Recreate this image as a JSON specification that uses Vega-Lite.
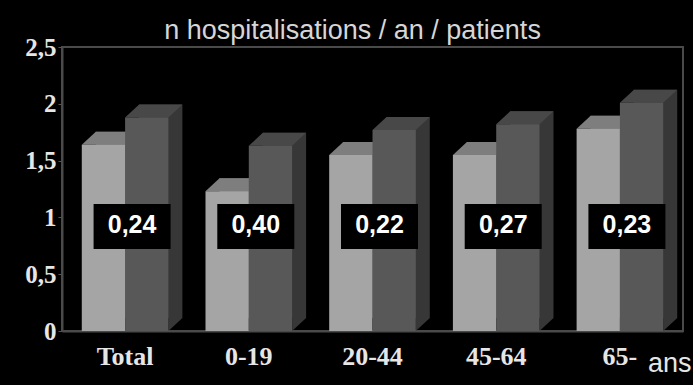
{
  "$schema": "https://vega.github.io/schema/vega-lite/v6.json",
  "width": 621,
  "height": 284,
  "autosize": {"type": "none"},
  "padding": {"left": 62, "top": 47, "right": 10, "bottom": 54},
  "background": "#000000",
  "title": {
    "text": "n hospitalisations / an / patients",
    "font": "Liberation Sans",
    "fontSize": 27,
    "fontWeight": "normal",
    "color": "#d6d6d6",
    "anchor": "middle",
    "baseline": "alphabetic",
    "offset": 6,
    "dx": -20,
    "dy": 37
  },
  "config": {
    "view": {"stroke": "#4a4a4a", "strokeWidth": 2},
    "point": {"filled": true, "opacity": 1, "strokeWidth": 0}
  },
  "data": {
    "values": [
      {"group": "Total", "serie": "A", "value": 1.64},
      {"group": "Total", "serie": "B", "value": 1.88, "ecart": "0,24"},
      {"group": "0-19", "serie": "A", "value": 1.23},
      {"group": "0-19", "serie": "B", "value": 1.63, "ecart": "0,40"},
      {"group": "20-44", "serie": "A", "value": 1.55},
      {"group": "20-44", "serie": "B", "value": 1.77, "ecart": "0,22"},
      {"group": "45-64", "serie": "A", "value": 1.55},
      {"group": "45-64", "serie": "B", "value": 1.82, "ecart": "0,27"},
      {"group": "65-", "serie": "A", "value": 1.78},
      {"group": "65-", "serie": "B", "value": 2.01, "ecart": "0,23"}
    ]
  },
  "encoding": {
    "x": {
      "field": "group",
      "type": "nominal",
      "sort": null,
      "scale": {
        "domain": ["Total", "0-19", "20-44", "45-64", "65-"],
        "paddingInner": 0.3,
        "paddingOuter": 0.16
      },
      "axis": {
        "title": "ans",
        "titleFont": "Liberation Sans",
        "titleFontSize": 27,
        "titleFontWeight": "normal",
        "titleColor": "#e6e6e6",
        "titleAlign": "right",
        "titleBaseline": "alphabetic",
        "titleX": 629,
        "titleY": 40,
        "labelAngle": 0,
        "labelFont": "Liberation Serif",
        "labelFontWeight": "bold",
        "labelFontSize": 26,
        "labelColor": "#e6e6e6",
        "labelPadding": 12,
        "ticks": false,
        "domainColor": "#4a4a4a",
        "domainWidth": 2
      }
    },
    "y": {
      "field": "value",
      "type": "quantitative",
      "scale": {"domain": [0, 2.5], "nice": false},
      "axis": {
        "title": null,
        "values": [0, 0.5, 1, 1.5, 2, 2.5],
        "labelExpr": "replace(format(datum.value, '~g'), '.', ',')",
        "labelFont": "Liberation Serif",
        "labelFontWeight": "bold",
        "labelFontSize": 25,
        "labelColor": "#e6e6e6",
        "labelPadding": 2,
        "tickSize": 4,
        "tickColor": "#555555",
        "domainColor": "#4a4a4a",
        "domainWidth": 2,
        "grid": false
      }
    }
  },
  "layer": [
    {
      "transform": [{"filter": "datum.serie === 'A'"}],
      "mark": {"type": "bar", "width": {"band": 0.5}, "xOffset": -7.65, "yOffset": -13, "y2Offset": -13, "color": "#666666"}
    },
    {
      "transform": [{"filter": "datum.serie === 'B'"}],
      "mark": {"type": "bar", "width": {"band": 0.5}, "xOffset": 35.65, "yOffset": -13, "y2Offset": -13, "color": "#373737"}
    },
    {
      "transform": [{"filter": "datum.serie === 'B'"}],
      "mark": {"type": "point", "shape": "M1,-0.6L1,0L1.647,-0.6Z", "size": 1875, "xOffset": 21.65, "color": "#373737"},
      "encoding": {"y": {"datum": 0, "type": "quantitative"}}
    },
    {
      "transform": [{"filter": "datum.serie === 'A'"}],
      "mark": {"type": "point", "shape": "M-1,0L1,0L1.647,-0.6L-0.353,-0.6Z", "size": 1875, "xOffset": -21.65, "color": "#7e7e7e"}
    },
    {
      "transform": [{"filter": "datum.serie === 'B'"}],
      "mark": {"type": "point", "shape": "M-1,0L1,0L1.647,-0.6L-0.353,-0.6Z", "size": 1875, "xOffset": 21.65, "color": "#484848"}
    },
    {
      "transform": [{"filter": "datum.serie === 'A'"}],
      "mark": {"type": "bar", "width": {"band": 0.5}, "xOffset": -21.65, "color": "#a5a5a5"}
    },
    {
      "transform": [{"filter": "datum.serie === 'B'"}],
      "mark": {"type": "bar", "width": {"band": 0.5}, "xOffset": 21.65, "color": "#585858"}
    },
    {
      "transform": [{"filter": "datum.serie === 'B'"}],
      "mark": {"type": "point", "shape": "M-1,-0.584L1,-0.584L1,0.584L-1,0.584Z", "size": 5929, "xOffset": 7, "color": "#000000"},
      "encoding": {"y": {"datum": 0.92, "type": "quantitative"}}
    },
    {
      "transform": [{"filter": "datum.serie === 'B'"}],
      "mark": {"type": "text", "font": "Liberation Sans", "fontSize": 25, "fontWeight": "bold", "color": "#ffffff", "dx": 7, "dy": -1, "baseline": "middle", "align": "center"},
      "encoding": {
        "y": {"datum": 0.92, "type": "quantitative"},
        "text": {"field": "ecart", "type": "nominal"}
      }
    }
  ]
}
